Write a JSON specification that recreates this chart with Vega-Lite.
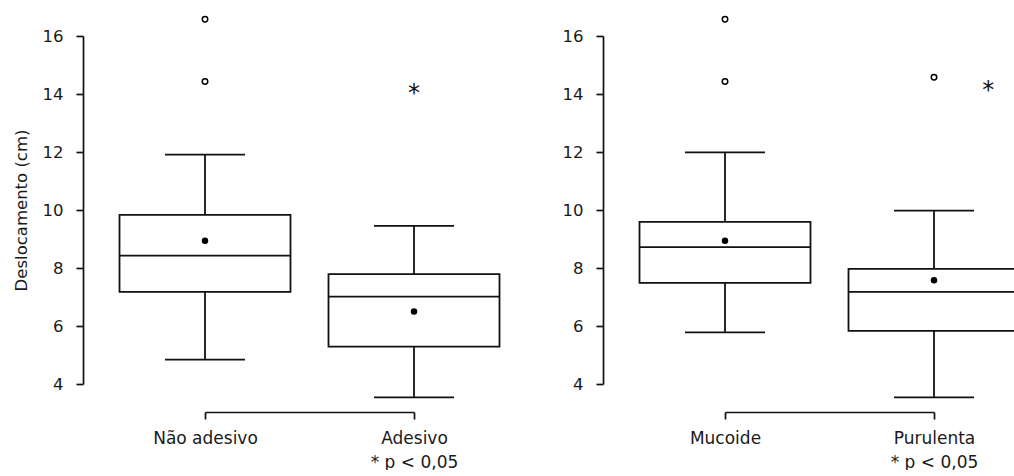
{
  "$schema": "https://vega.github.io/schema/vega-lite/v6.json",
  "padding": {"left": 13, "top": 13, "right": 0, "bottom": 0},
  "background": "white",
  "bounds": "flush",
  "spacing": 311,
  "config": {
    "view": {"stroke": null},
    "font": "DejaVu Sans",
    "axis": {"labelColor": "#1a1a1a", "titleColor": "#1a1a1a", "domainColor": "#111", "tickColor": "#111", "grid": false, "labelFont": "DejaVu Sans", "titleFont": "DejaVu Sans"}
  },
  "datasets": {
    "boxes": [
      {"panel": "A", "group": "Não adesivo", "pos": 1, "lo": 4.84, "q1": 7.18, "median": 8.43, "q3": 9.83, "hi": 11.91, "mean": 8.94},
      {"panel": "A", "group": "Adesivo", "pos": 2, "lo": 3.54, "q1": 5.29, "median": 7.01, "q3": 7.79, "hi": 9.45, "mean": 6.5},
      {"panel": "B", "group": "Mucoide", "pos": 1, "lo": 5.78, "q1": 7.49, "median": 8.72, "q3": 9.59, "hi": 11.99, "mean": 8.94},
      {"panel": "B", "group": "Purulenta", "pos": 2, "lo": 3.54, "q1": 5.83, "median": 7.18, "q3": 7.97, "hi": 9.98, "mean": 7.58}
    ],
    "outliers": [
      {"panel": "A", "pos": 1, "value": 16.58},
      {"panel": "A", "pos": 1, "value": 14.43},
      {"panel": "B", "pos": 1, "value": 16.58},
      {"panel": "B", "pos": 1, "value": 14.43},
      {"panel": "B", "pos": 2, "value": 14.58}
    ],
    "stars": [
      {"panel": "A", "pos": 2, "value": 14.1, "label": "*"},
      {"panel": "B", "pos": 2.26, "value": 14.22, "label": "*"}
    ]
  },
  "hconcat": [
    {
      "width": 209,
      "height": 348,
      "encoding": {
        "x": {"field": "pos", "type": "quantitative", "scale": {"domain": [1, 2], "nice": false, "zero": false, "padding": 0},
          "axis": {"title": null, "values": [1, 2], "offset": 28, "tickSize": 7, "tickWidth": 1.7, "domainWidth": 1.7, "labelPadding": 11, "labelFontSize": 17, "labelLineHeight": 24, "labelFlush": false, "labelOverlap": false,
            "labelExpr": "datum.value == 1 ? 'Não adesivo' : ['Adesivo', '* p < 0,05']"}}
      },
      "layer": [
        {"data": {"name": "boxes"}, "transform": [{"filter": "datum.panel === 'A'"}],
          "mark": {"type": "rule", "strokeWidth": 1.8, "color": "#111"},
          "encoding": {"y": {"field": "lo", "type": "quantitative", "scale": {"domain": [4, 16], "nice": false, "zero": false},
            "axis": {"title": "Deslocamento (cm)", "titleFontWeight": "normal", "titleFontSize": 16.5, "titlePadding": 13, "values": [4, 6, 8, 10, 12, 14, 16], "offset": 122, "tickSize": 7, "tickWidth": 1.7, "domainWidth": 1.7, "labelPadding": 13, "labelFontSize": 16.5, "labelFlush": false}},
            "y2": {"field": "hi"}}},
        {"data": {"name": "boxes"}, "transform": [{"filter": "datum.panel === 'A'"}],
          "mark": {"type": "bar", "width": 171, "fill": "white", "stroke": "#111", "strokeWidth": 1.8},
          "encoding": {"y": {"field": "q1", "type": "quantitative", "scale": {"domain": [4, 16], "nice": false, "zero": false}}, "y2": {"field": "q3"}}},
        {"data": {"name": "boxes"}, "transform": [{"filter": "datum.panel === 'A'"}],
          "mark": {"type": "tick", "orient": "horizontal", "size": 171, "thickness": 1.8, "color": "#111", "opacity": 1},
          "encoding": {"y": {"field": "median", "type": "quantitative", "scale": {"domain": [4, 16], "nice": false, "zero": false}}}},
        {"data": {"name": "boxes"}, "transform": [{"filter": "datum.panel === 'A'"}],
          "mark": {"type": "tick", "orient": "horizontal", "size": 80, "thickness": 1.8, "color": "#111", "opacity": 1},
          "encoding": {"y": {"field": "hi", "type": "quantitative", "scale": {"domain": [4, 16], "nice": false, "zero": false}}}},
        {"data": {"name": "boxes"}, "transform": [{"filter": "datum.panel === 'A'"}],
          "mark": {"type": "tick", "orient": "horizontal", "size": 80, "thickness": 1.8, "color": "#111", "opacity": 1},
          "encoding": {"y": {"field": "lo", "type": "quantitative", "scale": {"domain": [4, 16], "nice": false, "zero": false}}}},
        {"data": {"name": "boxes"}, "transform": [{"filter": "datum.panel === 'A'"}],
          "mark": {"type": "point", "filled": true, "size": 42, "color": "#000", "opacity": 1},
          "encoding": {"y": {"field": "mean", "type": "quantitative", "scale": {"domain": [4, 16], "nice": false, "zero": false}}}},
        {"data": {"name": "outliers"}, "transform": [{"filter": "datum.panel === 'A'"}],
          "mark": {"type": "point", "filled": false, "size": 30, "color": "#000", "strokeWidth": 1.5, "opacity": 1},
          "encoding": {"y": {"field": "value", "type": "quantitative", "scale": {"domain": [4, 16], "nice": false, "zero": false}}}},
        {"data": {"name": "stars"}, "transform": [{"filter": "datum.panel === 'A'"}],
          "mark": {"type": "text", "fontSize": 24, "baseline": "middle", "dy": 3, "color": "#111"},
          "encoding": {"y": {"field": "value", "type": "quantitative", "scale": {"domain": [4, 16], "nice": false, "zero": false}}, "text": {"field": "label"}}}
      ]
    },
    {
      "width": 209,
      "height": 348,
      "encoding": {
        "x": {"field": "pos", "type": "quantitative", "scale": {"domain": [1, 2], "nice": false, "zero": false, "padding": 0},
          "axis": {"title": null, "values": [1, 2], "offset": 28, "tickSize": 7, "tickWidth": 1.7, "domainWidth": 1.7, "labelPadding": 11, "labelFontSize": 17, "labelLineHeight": 24, "labelFlush": false, "labelOverlap": false,
            "labelExpr": "datum.value == 1 ? 'Mucoide' : ['Purulenta', '* p < 0,05']"}}
      },
      "layer": [
        {"data": {"name": "boxes"}, "transform": [{"filter": "datum.panel === 'B'"}],
          "mark": {"type": "rule", "strokeWidth": 1.8, "color": "#111"},
          "encoding": {"y": {"field": "lo", "type": "quantitative", "scale": {"domain": [4, 16], "nice": false, "zero": false},
            "axis": {"title": null, "values": [4, 6, 8, 10, 12, 14, 16], "offset": 122, "tickSize": 7, "tickWidth": 1.7, "domainWidth": 1.7, "labelPadding": 13, "labelFontSize": 16.5, "labelFlush": false}},
            "y2": {"field": "hi"}}},
        {"data": {"name": "boxes"}, "transform": [{"filter": "datum.panel === 'B'"}],
          "mark": {"type": "bar", "width": 171, "fill": "white", "stroke": "#111", "strokeWidth": 1.8},
          "encoding": {"y": {"field": "q1", "type": "quantitative", "scale": {"domain": [4, 16], "nice": false, "zero": false}}, "y2": {"field": "q3"}}},
        {"data": {"name": "boxes"}, "transform": [{"filter": "datum.panel === 'B'"}],
          "mark": {"type": "tick", "orient": "horizontal", "size": 171, "thickness": 1.8, "color": "#111", "opacity": 1},
          "encoding": {"y": {"field": "median", "type": "quantitative", "scale": {"domain": [4, 16], "nice": false, "zero": false}}}},
        {"data": {"name": "boxes"}, "transform": [{"filter": "datum.panel === 'B'"}],
          "mark": {"type": "tick", "orient": "horizontal", "size": 80, "thickness": 1.8, "color": "#111", "opacity": 1},
          "encoding": {"y": {"field": "hi", "type": "quantitative", "scale": {"domain": [4, 16], "nice": false, "zero": false}}}},
        {"data": {"name": "boxes"}, "transform": [{"filter": "datum.panel === 'B'"}],
          "mark": {"type": "tick", "orient": "horizontal", "size": 80, "thickness": 1.8, "color": "#111", "opacity": 1},
          "encoding": {"y": {"field": "lo", "type": "quantitative", "scale": {"domain": [4, 16], "nice": false, "zero": false}}}},
        {"data": {"name": "boxes"}, "transform": [{"filter": "datum.panel === 'B'"}],
          "mark": {"type": "point", "filled": true, "size": 42, "color": "#000", "opacity": 1},
          "encoding": {"y": {"field": "mean", "type": "quantitative", "scale": {"domain": [4, 16], "nice": false, "zero": false}}}},
        {"data": {"name": "outliers"}, "transform": [{"filter": "datum.panel === 'B'"}],
          "mark": {"type": "point", "filled": false, "size": 30, "color": "#000", "strokeWidth": 1.5, "opacity": 1},
          "encoding": {"y": {"field": "value", "type": "quantitative", "scale": {"domain": [4, 16], "nice": false, "zero": false}}}},
        {"data": {"name": "stars"}, "transform": [{"filter": "datum.panel === 'B'"}],
          "mark": {"type": "text", "fontSize": 24, "baseline": "middle", "dy": 3, "color": "#111"},
          "encoding": {"y": {"field": "value", "type": "quantitative", "scale": {"domain": [4, 16], "nice": false, "zero": false}}, "text": {"field": "label"}}}
      ]
    }
  ]
}
